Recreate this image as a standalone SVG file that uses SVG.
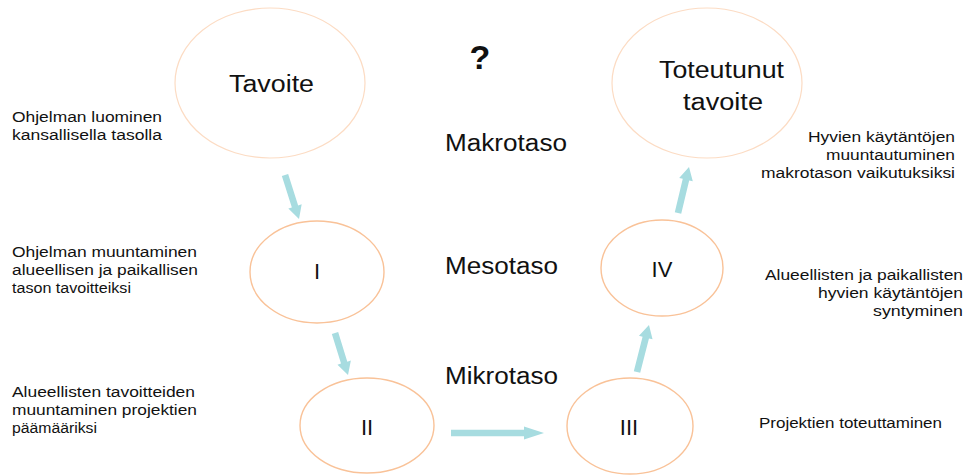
<svg xmlns="http://www.w3.org/2000/svg" width="965" height="475" viewBox="0 0 965 475">
  <style>
    .big { fill: #ffffff; stroke: #fcdcc4; stroke-width: 1.2; }
    .small { fill: #ffffff; stroke: #f9c298; stroke-width: 1.4; }
    .t { font-family: "Liberation Sans", Arial, sans-serif; fill: #111111; }
    .lg { font-size: 23px; }
    .md { font-size: 22px; }
    .sm { font-size: 15.5px; }
    .arrow { fill: #a7dce0; stroke: none; }
  </style>

  <rect width="965" height="475" fill="#ffffff"/>

  <!-- level labels and question mark -->
  <text class="t" x="480" y="69" text-anchor="middle" font-size="34" font-weight="bold">?</text>
  <text class="t lg" x="445" y="151" textLength="122" lengthAdjust="spacingAndGlyphs">Makrotaso</text>
  <text class="t lg" x="445" y="274" textLength="113" lengthAdjust="spacingAndGlyphs">Mesotaso</text>
  <text class="t lg" x="445" y="384" textLength="113" lengthAdjust="spacingAndGlyphs">Mikrotaso</text>

  <!-- left descriptions -->
  <g class="t sm">
    <text x="12" y="122" textLength="150" lengthAdjust="spacingAndGlyphs">Ohjelman luominen</text>
    <text x="12" y="140" textLength="150" lengthAdjust="spacingAndGlyphs">kansallisella tasolla</text>
    <text x="12" y="257" textLength="185" lengthAdjust="spacingAndGlyphs">Ohjelman muuntaminen</text>
    <text x="12" y="275" textLength="186" lengthAdjust="spacingAndGlyphs">alueellisen ja paikallisen</text>
    <text x="12" y="293" textLength="119" lengthAdjust="spacingAndGlyphs">tason tavoitteiksi</text>
    <text x="12" y="397" textLength="183" lengthAdjust="spacingAndGlyphs">Alueellisten tavoitteiden</text>
    <text x="12" y="415" textLength="185" lengthAdjust="spacingAndGlyphs">muuntaminen projektien</text>
    <text x="12" y="433" textLength="85" lengthAdjust="spacingAndGlyphs">päämääriksi</text>
  </g>

  <!-- right descriptions -->
  <g class="t sm">
    <text x="808" y="142" textLength="147" lengthAdjust="spacingAndGlyphs">Hyvien käytäntöjen</text>
    <text x="826" y="160" textLength="129" lengthAdjust="spacingAndGlyphs">muuntautuminen</text>
    <text x="761" y="178" textLength="194" lengthAdjust="spacingAndGlyphs">makrotason vaikutuksiksi</text>
    <text x="765" y="280" textLength="198" lengthAdjust="spacingAndGlyphs">Alueellisten ja paikallisten</text>
    <text x="818" y="298" textLength="145" lengthAdjust="spacingAndGlyphs">hyvien käytäntöjen</text>
    <text x="873" y="316" textLength="90" lengthAdjust="spacingAndGlyphs">syntyminen</text>
    <text x="759" y="428" textLength="183" lengthAdjust="spacingAndGlyphs">Projektien toteuttaminen</text>
  </g>

  <!-- nodes -->
  <g id="tavoite">
    <ellipse class="big" cx="270" cy="83" rx="95" ry="75"/>
    <text class="t lg" x="229" y="92" textLength="85" lengthAdjust="spacingAndGlyphs">Tavoite</text>
  </g>
  <g id="toteutunut">
    <ellipse class="big" cx="707" cy="83" rx="95" ry="75"/>
    <text class="t lg" x="659" y="78" textLength="125" lengthAdjust="spacingAndGlyphs">Toteutunut</text>
    <text class="t lg" x="683" y="110" textLength="80" lengthAdjust="spacingAndGlyphs">tavoite</text>
  </g>
  <g id="n1">
    <ellipse class="small" cx="317" cy="272" rx="67" ry="51"/>
    <text class="t md" x="317" y="279" text-anchor="middle">I</text>
  </g>
  <g id="n2">
    <ellipse class="small" cx="367" cy="425.5" rx="67" ry="47.5"/>
    <text class="t md" x="367" y="435" text-anchor="middle">II</text>
  </g>
  <g id="n3">
    <ellipse class="small" cx="630" cy="426" rx="63" ry="48"/>
    <text class="t md" x="629" y="435" text-anchor="middle">III</text>
  </g>
  <g id="n4">
    <ellipse class="small" cx="662" cy="268" rx="61" ry="48"/>
    <text class="t md" x="662" y="277" text-anchor="middle">IV</text>
  </g>

  <!-- connectors: block arrows drawn along +x, then rotated into place -->
  <g id="connectors" class="arrow">
    <path transform="translate(285,175) rotate(72.35)" d="M0,-3.3 H33 V-7 L46.2,0 L33,7 V3.3 H0 Z"/>
    <path transform="translate(335,333) rotate(72.8)" d="M0,-3.3 H31 V-7 L44,0 L31,7 V3.3 H0 Z"/>
    <path transform="translate(451,433)" d="M0,-3.3 H73 V-6.5 L93,0 L73,6.5 V3.3 H0 Z"/>
    <path transform="translate(637,372) rotate(-75.7)" d="M0,-3.3 H35.5 V-7 L48.5,0 L35.5,7 V3.3 H0 Z"/>
    <path transform="translate(678,213) rotate(-76.55)" d="M0,-3.3 H34.3 V-7 L47.3,0 L34.3,7 V3.3 H0 Z"/>
  </g>
</svg>
